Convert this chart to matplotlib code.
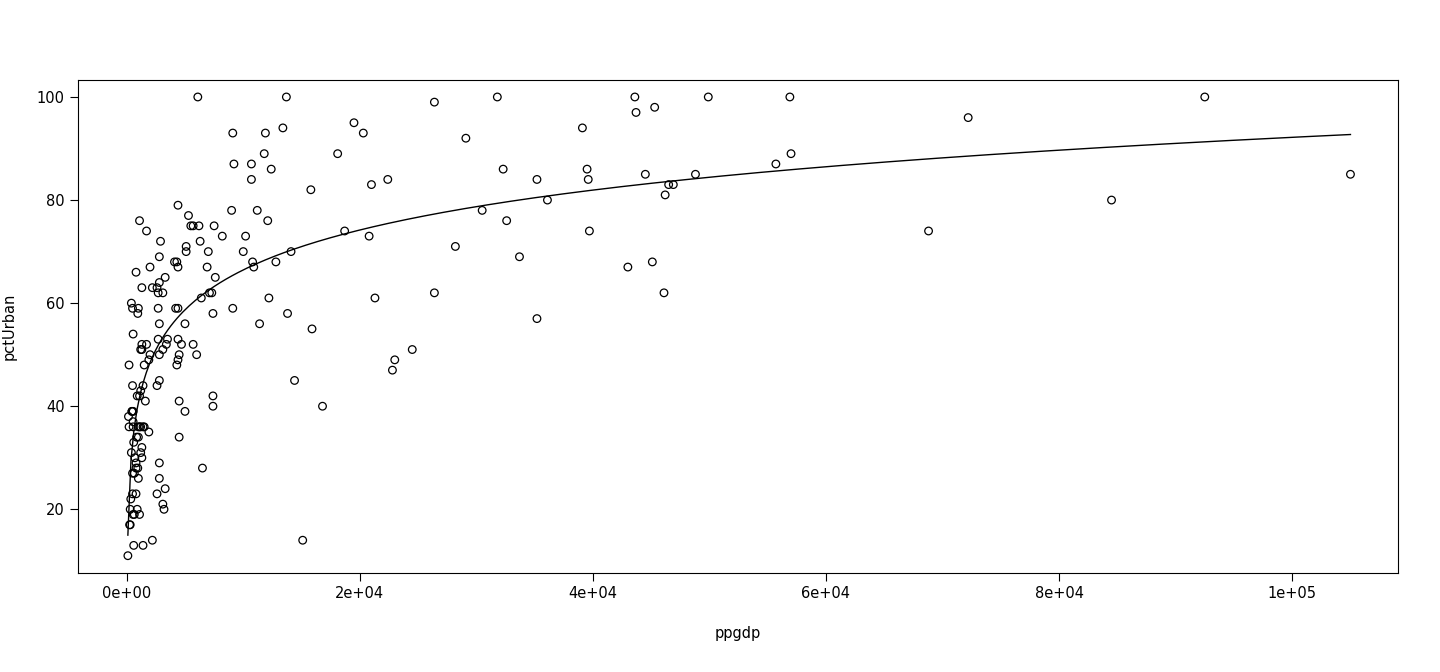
import numpy as np
import matplotlib
matplotlib.use("Agg")
import matplotlib.pyplot as plt

ppgdp_k = [6.1,9.1,9.2,9.0,9.1,10.7,10.7,10.8,10.9,10.2,10.0,11.2,11.4,11.8,11.9,12.1,12.2,12.4,12.8,13.4,13.7,13.8,14.1,14.4,15.1,15.8,15.9,16.8,18.1,18.7,19.5,20.3,20.8,21.0,21.3,22.4,22.8,23.0,24.5,26.4,26.4,28.2,29.1,30.5,31.8,32.3,32.6,33.7,35.2,35.2,36.1,39.1,39.5,39.6,39.7,43.0,43.6,43.7,44.5,45.1,45.3,46.1,46.2,46.5,46.9,48.8,49.9,55.7,56.9,57.0,68.8,72.2,84.5,92.5,105.0,
    2.0,2.2,2.7,2.6,2.8,2.9,2.8,2.7,2.8,2.8,2.8,2.6,2.6,2.8,2.8,3.1,3.2,3.3,2.2,3.1,3.3,3.1,3.4,3.5,2.7,4.1,4.3,4.4,4.4,4.2,4.4,4.4,4.3,4.4,4.5,4.5,4.5,4.7,5.0,5.1,5.1,5.0,5.3,5.5,5.7,5.7,6.0,6.2,6.3,6.4,6.5,6.9,7.0,7.1,7.3,7.4,7.4,7.4,7.5,7.6,8.2,
    0.1,0.15,0.2,0.2,0.25,0.3,0.3,0.35,0.4,0.45,0.45,0.55,0.6,0.4,0.5,0.55,0.5,0.55,0.55,0.5,0.65,0.5,0.55,0.65,0.6,0.7,0.8,0.8,0.95,0.8,0.9,0.9,1.0,0.8,0.85,1.0,1.0,1.1,1.1,1.2,1.0,0.95,1.2,1.3,1.3,1.3,1.1,1.2,1.4,1.5,1.3,1.3,1.2,1.4,1.5,1.4,1.6,1.7,1.9,1.9,2.0,1.1,1.7]
pctUrban = [100,93,87,78,59,87,84,68,67,73,70,78,56,89,93,76,61,86,68,94,100,58,70,45,14,82,55,40,89,74,95,93,73,83,61,84,47,49,51,62,99,71,92,78,100,86,76,69,84,57,80,94,86,84,74,67,100,97,85,68,98,62,81,83,83,85,100,87,100,89,74,96,80,100,85,
    67,63,62,63,69,72,64,59,56,50,45,44,23,29,26,21,20,24,14,62,65,51,52,53,53,68,68,79,67,59,59,53,48,49,50,41,34,52,56,71,70,39,77,75,75,52,50,75,72,61,28,67,70,62,62,42,40,58,75,65,73,
    11,38,36,48,17,17,20,22,31,39,39,39,33,60,59,54,44,36,37,27,27,23,19,19,13,30,29,28,28,23,20,42,26,66,34,34,36,36,42,43,59,58,51,51,63,52,19,36,36,36,32,30,31,44,48,13,41,52,35,49,50,76,74]

x = np.array(ppgdp_k) * 1000
y = np.array(pctUrban, dtype=float)

b, a = np.polyfit(np.log(x), y, 1)
xs = np.linspace(x.min(), x.max(), 400)

fig = plt.figure(figsize=(14.4, 6.72), dpi=100)
ax = fig.add_axes([0.054, 0.147, 0.917, 0.734])
ax.scatter(x, y, s=30, facecolors='none', edgecolors='black', linewidths=0.9)
ax.plot(xs, a + b*np.log(xs), color='black', lw=1)
ax.set_xlim(-4200, 109100)
ax.set_ylim(7.6, 103.3)
xt = [0, 20000, 40000, 60000, 80000, 100000]
ax.set_xticks(xt)
ax.set_xticklabels(["0e+00", "2e+04", "4e+04", "6e+04", "8e+04", "1e+05"])
ax.set_yticks([20, 40, 60, 80, 100])
ax.tick_params(labelsize=10.5, length=6)
ax.set_xlabel("ppgdp", fontsize=10.5, labelpad=18)
ax.set_ylabel("pctUrban", fontsize=10.5, labelpad=14)
fig.savefig("out.png")
